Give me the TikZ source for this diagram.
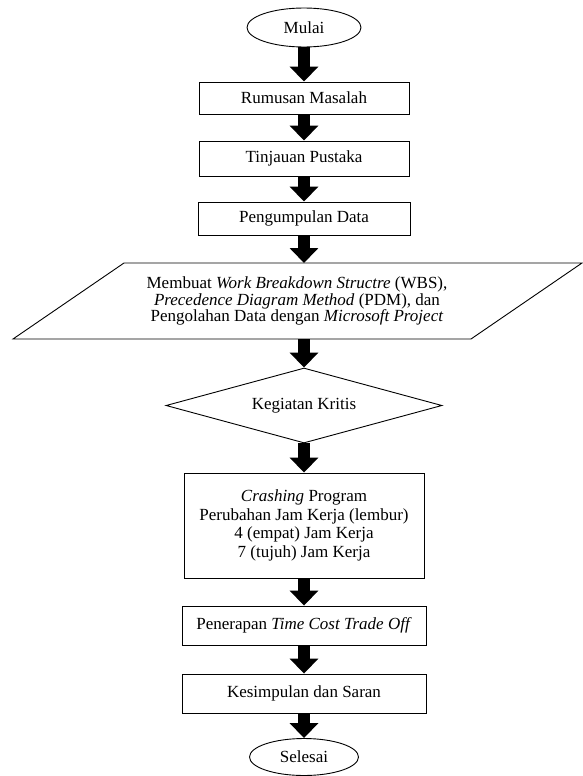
\documentclass[tikz,border=0pt]{standalone}
\usepackage{fontspec}
\setmainfont{Liberation Serif}
\usetikzlibrary{arrows.meta,shapes.geometric}

\tikzset{
    proses/.style={draw, line width=0.9pt, rectangle, align=center, inner sep=0pt},
    terminal/.style={draw, line width=0.9pt, ellipse, inner sep=0pt},
    keputusan/.style={draw, line width=0.9pt, diamond, aspect=3.7, inner sep=0pt},
    panah/.style={line width=12pt, -{Triangle[width=28pt,length=15pt]}}
}

\begin{document}
\begin{tikzpicture}[x=1pt, y=-1pt, font=\fontsize{17}{18.5}\selectfont]
\useasboundingbox (0,0) rectangle (583,776);

% Start
\node[terminal, minimum width=114pt, minimum height=39pt] (mulai) at (304,27.5) {Mulai};

% Early steps
\node[proses, minimum width=210pt, minimum height=32pt] (rumusan) at (304,98) {Rumusan Masalah};
\node[proses, minimum width=210pt, minimum height=35pt] (tinjauan) at (304,158.5) {Tinjauan Pustaka};
\node[proses, minimum width=212pt, minimum height=33pt] (data) at (304,218.5) {Pengumpulan Data};

% Input/output
\draw[line width=0.9pt] (13,339) -- (124,263) -- (582,263) -- (471,339) -- cycle;
\node[align=center, font=\fontsize{17}{16.5}\selectfont] (wbs) at (297,301)
    {Membuat \textit{Work Breakdown Structre} (WBS),\\
     \textit{Precedence Diagram Method} (PDM), dan\\
     Pengolahan Data dengan \textit{Microsoft Project}};
\coordinate (wbs atas) at (304,263);
\coordinate (wbs bawah) at (304,339);

% Decision
\node[keputusan, minimum width=276pt, minimum height=75pt] (kritis) at (304,405.5) {Kegiatan Kritis};

% Later steps
\node[proses, minimum width=240pt, minimum height=105pt] (crashing) at (304,525.5)
    {\textit{Crashing} Program\\
     Perubahan Jam Kerja (lembur)\\
     4 (empat) Jam Kerja\\
     7 (tujuh) Jam Kerja};
\node[proses, minimum width=244pt, minimum height=39pt] (tcto) at (304,625.5) {Penerapan \textit{Time Cost Trade Off}};
\node[proses, minimum width=244pt, minimum height=39pt] (kesimpulan) at (304,693.5) {Kesimpulan dan Saran};

% End
\node[terminal, minimum width=109pt, minimum height=37pt] (selesai) at (304,757) {Selesai};

% Arrows
\draw[panah] (mulai.south) -- (rumusan.north);
\draw[panah] (rumusan.south) -- (tinjauan.north);
\draw[panah] (tinjauan.south) -- (data.north);
\draw[panah] (data.south) -- (wbs atas);
\draw[panah] (wbs bawah) -- (kritis.north);
\draw[panah] (kritis.south) -- (crashing.north);
\draw[panah] (crashing.south) -- (tcto.north);
\draw[panah] (tcto.south) -- (kesimpulan.north);
\draw[panah] (kesimpulan.south) -- (selesai.north);

\end{tikzpicture}
\end{document}
